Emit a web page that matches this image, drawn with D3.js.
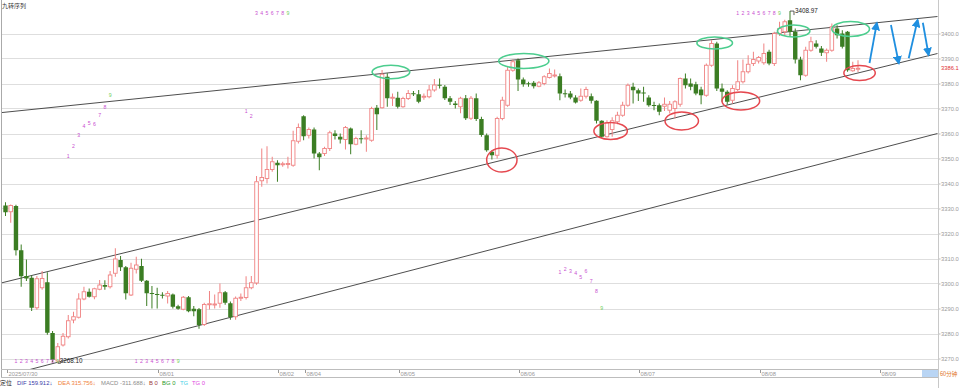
<!DOCTYPE html>
<html>
<head>
<meta charset="utf-8">
<script src="https://cdn.jsdelivr.net/npm/d3@7"></script>
<style>
body{margin:0;background:#fff;}
svg{display:block;font-family:"Liberation Sans",Arial,sans-serif;}
</style>
</head>
<body>
<div id="chart"></div>
<script>
let w = 959;
let h = 388;

// 60 min bars, 2025/07/30 .. 08/08
let opens = [3331.2,3328.7,3331,3313.3,3303,3302.3,3290.3,3298.3,3300.5,3280.2,
  3269,3275.4,3278.7,3285.4,3286.5,3293.8,3296.7,3294.7,3297.7,3299.4,
  3298.7,3304.1,3309.4,3306.5,3295.4,3305.7,3307,3301.1,3296.2,3295.8,
  3295.5,3295,3295.6,3290.9,3289.7,3294.5,3289.9,3289.7,3283.6,3291.7,
  3291.6,3292.1,3296.5,3292.1,3286.7,3294.1,3294.4,3298.3,3300.2,3341.1,
  3342,3345.6,3348.3,3347.5,3347.7,3347.3,3356.9,3366.9,3359.3,3361.6,
  3352,3352,3354,3360,3358.7,3357.6,3362,3355.7,3358.1,3358,
  3357.3,3370.3,3370.3,3382.7,3374.1,3374.3,3370.7,3374,3376.1,3375.7,
  3374.6,3374.7,3377.4,3379.5,3378.7,3374.1,3372,3370.7,3374.1,3366.1,
  3374.1,3365.8,3359.3,3352.7,3351.3,3366,3371.3,3385.3,3389.3,3381.6,
  3380.1,3380.3,3378.9,3380,3382.4,3383.2,3382.9,3376.1,3376,3374.4,
  3373.3,3374.9,3374.9,3373.1,3365.1,3358.7,3361.6,3364.7,3367.3,3371.3,
  3378.7,3377.3,3376.4,3374.4,3371.4,3371.3,3370.9,3369.3,3370,3371.7,
  3382,3380,3379.7,3377.6,3375.3,3387.3,3396,3378,3376.7,3373.3,
  3377.6,3380.7,3384.7,3388,3389,3388.3,3392.7,3388,3400,3400.7,
  3405.3,3400.7,3389.6,3383.3,3393.3,3396,3394,3392.3,3393.3,3402,
  3400,3400.7,3385.1,3386];
let highs = [3332.5,3331.6,3331.5,3315.6,3309.6,3303.2,3303,3305,3304.5,3281,
  3276.2,3280.2,3287.4,3288.7,3296.1,3298.7,3298,3298.3,3301.4,3301.3,
  3305,3314.1,3311,3307,3308.3,3310.7,3309.9,3301.4,3299,3298.3,
  3296.5,3297,3296,3291.5,3295,3295,3291,3290.2,3292.3,3297,
  3295.6,3300,3297,3292.8,3294.8,3296,3302.9,3303,3343,3354,
  3354.9,3350.7,3349.3,3348.7,3350.7,3361.1,3364,3367.3,3362.4,3362.4,
  3352.6,3354.7,3361.1,3361.3,3360,3363,3362.4,3358.7,3361.3,3359.3,
  3370.7,3371.4,3385.4,3384.1,3376,3376.7,3374.7,3377.4,3377,3377.4,
  3376,3379.4,3381.8,3382,3379.4,3375,3373,3374.7,3375.4,3375,
  3376,3366.7,3360,3353.3,3366.7,3374.7,3386.7,3389.6,3390,3382.4,
  3380.7,3381,3381,3383.3,3386,3385.6,3384,3377.6,3377,3375.3,
  3378,3378.7,3376,3373.3,3365.3,3365.3,3366.5,3368.7,3372.7,3380,
  3380.3,3378,3378.7,3375.3,3372.7,3372,3374.4,3373,3373.3,3382.4,
  3384,3382,3380.7,3378.7,3388,3397.3,3396.7,3380,3377.3,3379.3,
  3389.3,3389.6,3391.3,3392.7,3391,3396,3393.5,3400.7,3404.7,3405.5,
  3408.97,3402,3390.7,3394.7,3398.7,3397.3,3395,3394,3404,3403.3,
  3401.3,3401,3388.7,3389.3];
let lows = [3327,3324.3,3311.2,3298.7,3301,3289,3289.5,3297.5,3279.5,3268.5,
  3268.1,3274.8,3278,3284.1,3286,3293.3,3294.4,3293.7,3297.3,3297.5,
  3298,3302.7,3305,3293.6,3295,3304,3300.6,3291,3290,3290,
  3294,3292,3290,3289.5,3289.3,3288.5,3286.9,3281.9,3283,3289.6,
  3290,3290.3,3291.5,3285.5,3285.5,3293,3293.6,3297.7,3299.5,3338.7,
  3340,3344.7,3340.7,3346.7,3346,3346.7,3356,3357.3,3358,3350,
  3345.3,3351,3353,3357.6,3356,3353.6,3351.7,3355.3,3356,3352.7,
  3356.7,3361.4,3370,3370.7,3371,3370,3370.3,3373.4,3375,3372.1,
  3373.5,3374.1,3376.7,3378,3373.4,3371.4,3370,3368.1,3365.4,3365.4,
  3365,3358.7,3352.7,3349.6,3350,3365.3,3370.7,3384.7,3377,3378.7,
  3378.7,3378,3378.5,3379.3,3382,3382.4,3373.3,3374.4,3373.7,3372,
  3372.7,3374,3372,3364,3358.4,3358.4,3358.7,3363.7,3366.7,3370.7,
  3372,3373,3372.7,3370.7,3369.3,3367.3,3369,3368,3366,3370.7,
  3378,3377.3,3375.3,3371.7,3374.7,3386.7,3377,3372.7,3371.6,3372,
  3377,3380,3384,3387,3388,3387.5,3387.3,3387,3399,3399,
  3399,3388,3381.3,3382.7,3392.7,3394,3391,3388.7,3392.7,3398,
  3394,3384.7,3384.7,3384.6];
let closes = [3328.5,3331.2,3313.3,3302.9,3302,3290.3,3301.9,3302,3280.3,3269.5,
  3274.7,3278.9,3285.1,3286.7,3293.8,3296.7,3294.7,3297.9,3299.4,3298.7,
  3303.4,3309.8,3306.5,3296.1,3306.1,3307.4,3301.1,3296.1,3296,3295.6,
  3295.3,3296,3290.7,3289.9,3294.5,3288.9,3288.9,3283.4,3291.6,3291.9,
  3291.8,3296.3,3292.3,3286.5,3294.1,3294.5,3298.3,3300.3,3340.7,3342.4,
  3345.6,3348.7,3347.3,3347.9,3348,3357.1,3362.4,3358.9,3361.6,3352,
  3350.5,3354,3360.3,3359,3357.6,3362.4,3355.7,3358,3358,3358.2,
  3370,3367.7,3383.7,3374.1,3374.5,3370.7,3374,3376,3376,3372.7,
  3374.9,3377.4,3379.4,3379.2,3374.1,3372.7,3371.4,3374.1,3366.1,3374.1,
  3365.8,3359.4,3353.3,3351.3,3366,3373.3,3385.3,3388.7,3381.6,3379.7,
  3380,3378.9,3380.3,3382.7,3384,3383.4,3376,3376,3374.4,3372.4,
  3374.9,3377.6,3373.1,3365.1,3358.7,3364.3,3365.1,3367.3,3371.3,3379.3,
  3377.3,3376,3376.2,3371.3,3371.2,3368.7,3371.7,3371.7,3372.7,3382,
  3379.3,3378.7,3376,3375.3,3387.3,3396,3378,3376.7,3372.7,3378,
  3380.7,3384.7,3387.7,3389.6,3390.4,3392,3388,3400,3402,3404.7,
  3400.7,3389.6,3383.3,3393.3,3396.7,3394.7,3392.3,3393.3,3402.7,3399.3,
  3394.7,3385.3,3386,3386.1];

let priceTicks = [3400,3390,3380,3370,3360,3350,3340,3330,3320,3310,3300,3290,3280,3270];
let dateLabels = ["2025/07/30","08/01","08/02","08/04","08/05","08/06","08/07","08/08","08/09"];
let dateIdx = [0,29,52,57,75,98,121,144,167];

// 九转序列 digits: bar index, price level, digit
let nineIdx = [2,3,4,5,6,7,8,9,10,
  12,13,14,15,16,17,18,19,20,
  25,26,27,28,29,30,31,32,33,
  46,47,48,49,50,51,52,53,54,
  106,107,108,109,110,111,112,113,114,
  140,141,142,143,144,145,146,147,148];
let nineLevel = [3268.7,3268.7,3268.7,3268.7,3268.7,3268.7,3268.7,3268.7,3268.7,
  3350.6,3354.6,3359,3362.6,3363.8,3363.4,3367,3370.2,3375,
  3268.7,3268.7,3268.7,3268.7,3268.7,3268.7,3268.7,3268.7,3268.7,
  3368.6,3366.6,3408,3408,3408,3408,3408,3408,3408,
  3304.3,3305.4,3304.7,3303.8,3302.2,3304.7,3300.6,3296.6,3290.1,
  3408,3408,3408,3408,3408,3408,3408,3408,3408];
let nineDigit = [1,2,3,4,5,6,7,8,9, 1,2,3,4,5,6,7,8,9, 1,2,3,4,5,6,7,8,9,
  1,2,3,4,5,6,7,8,9, 1,2,3,4,5,6,7,8,9, 1,2,3,4,5,6,7,8,9];

// drawn channel lines [index, price]
let channelLines = [
  [[-1.05,3368.3],[178.2,3406.8]],
  [[-1.05,3300.1],[178.2,3392.0]],
  [[4.3,3265.4],[178.2,3360.0]]
];
// rings: index, price, half width (bars), half height (price)
let topRingIdx = [73.7,99.1,135.6,150.7,161.6];
let topRingPrice = [3384.6,3389,3396.2,3401,3401.8];
let topRingW = [3.6,4.8,3.4,3.1,3.6];
let topRingH = [2.7,3.0,2.4,2.4,3.0];
let lowRingIdx = [94.9,115.7,129.3,140.6,163.3];
let lowRingPrice = [3349.4,3361,3365,3373,3384.2];
let lowRingW = [2.9,3.2,3.2,3.6,3.0];
let lowRingH = [4.8,3.4,3.6,3.6,3.0];
// projected swings
let arrows = [
  [[165.2,3388.2],[166.6,3404.2]],
  [[169.3,3403.4],[170.8,3388.1]],
  [[172.7,3390.1],[174.4,3405.4]],
  [[175.4,3404.3],[176.5,3391.4]]
];

let upColor = "#f08282";
let downColor = "#3b7d23";

let svg = d3.select("#chart").append("svg")
  .attr("width", w)
  .attr("height", h);

let x = d3.scaleLinear().domain([0, opens.length-1]).range([5.5, 858]);
let y = d3.scaleLinear().domain([3270, 3400]).range([358.5, 33.5]);

svg.append("defs").append("clipPath").attr("id","plot")
  .append("rect").attr("x",2).attr("y",0).attr("width",936).attr("height",369);

// grid
svg.selectAll(".grid").data(priceTicks).enter()
  .append("line")
  .attr("x1", 2).attr("x2", 938)
  .attr("y1", d => Math.round(y(d))+0.5)
  .attr("y2", d => Math.round(y(d))+0.5)
  .attr("stroke", "#dedede");

// right axis
let yAxis = d3.axisRight(y).tickValues(priceTicks).tickSize(2).tickPadding(0.5)
  .tickFormat(d => d.toFixed(1));
let yg = svg.append("g").attr("transform","translate(938.5,0)").call(yAxis);
yg.select(".domain").remove();
yg.selectAll("line").attr("stroke","#bbb");
yg.selectAll("text").attr("fill","#9a9a9a").style("font-size","5.8px");
svg.append("line").attr("x1",938.5).attr("x2",938.5).attr("y1",0).attr("y2",h).attr("stroke","#c8c8c8");

// frame
svg.append("line").attr("x1",1.5).attr("x2",1.5).attr("y1",0).attr("y2",378).attr("stroke","#aaa");
svg.append("line").attr("x1",1).attr("x2",938).attr("y1",369.5).attr("y2",369.5).attr("stroke","#bdbdbd");
svg.append("line").attr("x1",1).attr("x2",938).attr("y1",377.5).attr("y2",377.5).attr("stroke","#bdbdbd");

// date axis
let dates = svg.append("g");
dateLabels.forEach((d,i) => {
  let px = Math.round(x(dateIdx[i]))+1.5;
  dates.append("line").attr("x1",px).attr("x2",px).attr("y1",370).attr("y2",373).attr("stroke","#999");
  dates.append("text").attr("x",px+1).attr("y",375.8).text(d)
    .attr("fill","#999").style("font-size","5.8px");
});

let plot = svg.append("g").attr("clip-path","url(#plot)");

// channel lines
let lineGen = d3.line().x(d => x(d[0])).y(d => y(d[1]));
plot.selectAll(".channel").data(channelLines).enter()
  .append("path")
  .attr("d", lineGen)
  .attr("fill","none")
  .attr("stroke","#3a3a3a")
  .attr("stroke-width",0.9);

// candles
let bars = d3.range(opens.length).map(i => ({i:i, o:opens[i], h:highs[i], l:lows[i], c:closes[i]}));
let bw = 3.6;
let cg = plot.selectAll(".candle").data(bars).enter().append("g").attr("class","candle");
cg.each(function(d){
  let g = d3.select(this);
  let cx = x(d.i);
  let up = d.c >= d.o;
  let col = up ? upColor : downColor;
  let top = y(Math.max(d.o,d.c));
  let bot = y(Math.min(d.o,d.c));
  if (bot - top < 1) { bot = top + 1; }
  if (up) {
    g.append("line").attr("x1",cx).attr("x2",cx).attr("y1",y(d.h)).attr("y2",top).attr("stroke",col);
    g.append("line").attr("x1",cx).attr("x2",cx).attr("y1",bot).attr("y2",y(d.l)).attr("stroke",col);
    g.append("rect").attr("x",cx-bw/2).attr("y",top).attr("width",bw).attr("height",Math.max(bot-top,0.5))
      .attr("fill","#fff").attr("stroke",col).attr("stroke-width",0.9);
  } else {
    g.append("line").attr("x1",cx).attr("x2",cx).attr("y1",y(d.h)).attr("y2",y(d.l)).attr("stroke",col);
    g.append("rect").attr("x",cx-bw/2-0.4).attr("y",top).attr("width",bw+0.8).attr("height",bot-top)
      .attr("fill",col);
  }
});

// rings
plot.selectAll(".topring").data(topRingIdx).enter()
  .append("ellipse")
  .attr("cx",(d,i) => x(d)).attr("cy",(d,i) => y(topRingPrice[i]))
  .attr("rx",(d,i) => x(d+topRingW[i]) - x(d))
  .attr("ry",(d,i) => y(topRingPrice[i]-topRingH[i]) - y(topRingPrice[i]))
  .attr("fill","none").attr("stroke","#4ccd8e").attr("stroke-width",1.6);
plot.selectAll(".lowring").data(lowRingIdx).enter()
  .append("ellipse")
  .attr("cx",(d,i) => x(d)).attr("cy",(d,i) => y(lowRingPrice[i]))
  .attr("rx",(d,i) => x(d+lowRingW[i]) - x(d))
  .attr("ry",(d,i) => y(lowRingPrice[i]-lowRingH[i]) - y(lowRingPrice[i]))
  .attr("fill","none").attr("stroke","#e5484f").attr("stroke-width",1.5);

// arrows
svg.select("defs").append("marker")
  .attr("id","head").attr("viewBox","0 0 10 10").attr("refX",8).attr("refY",5)
  .attr("markerWidth",5).attr("markerHeight",5).attr("orient","auto")
  .append("path").attr("d","M0,0L10,5L0,10z").attr("fill","#1f8fe0");
plot.selectAll(".arrow").data(arrows).enter()
  .append("path")
  .attr("d", lineGen)
  .attr("stroke","#1f8fe0").attr("stroke-width",1.8).attr("fill","none")
  .attr("marker-end","url(#head)");

// nine-turn digits
svg.selectAll(".nine").data(nineIdx).enter()
  .append("text")
  .attr("x", d => x(d))
  .attr("y", (d,i) => y(nineLevel[i]))
  .attr("text-anchor","middle").attr("dominant-baseline","middle")
  .style("font-size","5.2px")
  .attr("fill",(d,i) => nineDigit[i] === 9 ? "#6fcf5a" : "#c94fd0")
  .text((d,i) => nineDigit[i]);

// extremes
let hiI = d3.maxIndex(highs);
let loI = d3.minIndex(lows);
svg.append("path")
  .attr("d", `M${x(hiI)},${y(highs[hiI])}H${x(hiI)+4}V${y(highs[hiI])+4}`)
  .attr("stroke","#333").attr("fill","none").attr("stroke-width",0.8);
svg.append("text").attr("x",x(hiI)+5).attr("y",y(highs[hiI])).attr("dominant-baseline","middle")
  .style("font-size","6.3px").attr("fill","#222").text(highs[hiI].toFixed(2));
svg.append("path")
  .attr("d", `M${x(loI)},${y(lows[loI])}H${x(loI)+3}`)
  .attr("stroke","#333").attr("fill","none").attr("stroke-width",0.8);
svg.append("text").attr("x",x(loI)+2).attr("y",y(lows[loI])-2.2).attr("dominant-baseline","middle")
  .style("font-size","6.3px").attr("fill","#222").text(lows[loI].toFixed(2));

// last price on axis
let last = closes[closes.length-1];
svg.append("text").attr("x",941).attr("y",y(last)).attr("dominant-baseline","middle")
  .style("font-size","5.8px").attr("fill","#e03131").text(last.toFixed(1));

// title
svg.append("text").attr("x",2).attr("y",7.5).style("font-size","6px").attr("fill","#333")
  .style("font-family","'Noto Sans CJK SC',sans-serif").text("九转序列");

// period box
svg.append("rect").attr("x",922).attr("y",370).attr("width",16).attr("height",7).attr("fill","#b9d5f4");
svg.append("text").attr("x",940).attr("y",376).style("font-size","5.6px").attr("fill","#e0731d")
  .style("font-family","'Noto Sans CJK SC',sans-serif").text("60分钟");

// indicator legend
let legendText = ["定位","DIF 159.912↓","DEA 315.756↓","MACD -311.688↓","B 0","BG 0","TG","TG 0"];
let legendColor = ["#222","#3a3aa8","#f07f3c","#8c8c8c","#a03a3a","#2a9a2a","#47d0e6","#e046e0"];
let legendX = [0,17,58,101,149,162,180,192];
svg.selectAll(".legend").data(legendText).enter()
  .append("text")
  .attr("x",(d,i) => legendX[i]).attr("y",384.5)
  .style("font-size","5.9px")
  .style("font-family",(d,i) => i === 0 ? "'Noto Sans CJK SC',sans-serif" : null)
  .attr("fill",(d,i) => legendColor[i])
  .text(d => d);
</script>
</body>
</html>
